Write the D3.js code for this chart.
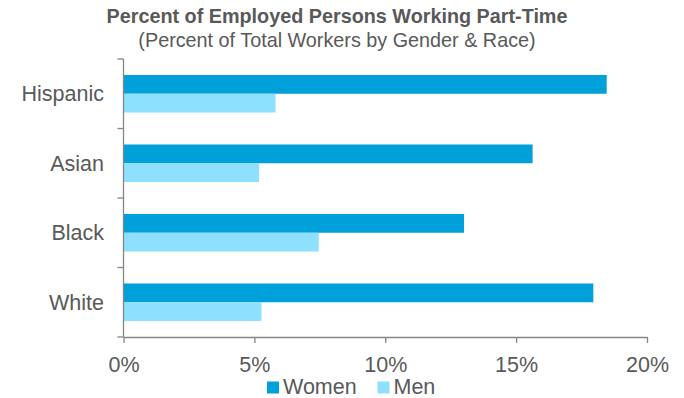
<!DOCTYPE html>
<html><head><meta charset="utf-8">
<script src="https://cdn.jsdelivr.net/npm/d3@7"></script>
<style>body{margin:0;background:#fff}svg{display:block}text{font-family:"Liberation Sans",Arial,sans-serif}</style>
</head><body><svg id="c" width="684" height="398"></svg>
<script>
const categories = ["Hispanic","Asian","Black","White"];
const women = [18.46, 15.63, 13.01, 17.95];
const men = [5.81, 5.18, 7.46, 5.27];
const series = ["Women","Men"];
const xTicks = [0,5,10,15,20];
const colors = {Women:"#00A0DA", Men:"#8EE0FF"};

const svg = d3.select("#c");
const m = {left:123.5, right:647, top:59, bottom:337};
const x = d3.scaleLinear().domain([0,20]).range([m.left,m.right]);
const y = d3.scaleBand().domain(categories).range([m.top,m.bottom]).paddingInner(0.46).paddingOuter(0.23);
const ys = d3.scaleBand().domain(series).range([0,y.bandwidth()]);
const vals = {Women:women, Men:men};
const textColor = "#595959", axisColor = "#868686";

svg.append("text").attr("x",337).attr("y",22.5).attr("text-anchor","middle")
  .attr("font-weight","bold").attr("font-size",19.8).attr("fill",textColor)
  .text("Percent of Employed Persons Working Part-Time");
svg.append("text").attr("x",337).attr("y",47).attr("text-anchor","middle")
  .attr("font-size",19.8).attr("fill",textColor)
  .text("(Percent of Total Workers by Gender & Race)");

categories.forEach((c,i)=>{
  series.forEach(s=>{
    svg.append("rect").attr("x",x(0)).attr("y",y(c)+ys(s))
      .attr("width",x(vals[s][i])-x(0)).attr("height",ys.bandwidth())
      .attr("fill",colors[s]);
  });
});

// y axis
const ya = svg.append("g");
ya.append("line").attr("x1",m.left).attr("x2",m.left).attr("y1",m.top).attr("y2",m.bottom).attr("stroke",axisColor).attr("stroke-width",1.3);
const bounds = d3.range(categories.length+1).map(i=>m.top+(m.bottom-m.top)*i/categories.length);
bounds.forEach(b=>ya.append("line").attr("x1",m.left-6).attr("x2",m.left).attr("y1",b).attr("y2",b).attr("stroke",axisColor).attr("stroke-width",1.3));
categories.forEach(c=>{
  ya.append("text").attr("x",104).attr("y",y(c)+y.bandwidth()/2).attr("dy","0.35em")
    .attr("text-anchor","end").attr("font-size",21.5).attr("fill",textColor).text(c);
});

// x axis
const xa = svg.append("g").attr("transform",`translate(0,${m.bottom})`)
  .call(d3.axisBottom(x).tickValues(xTicks).tickFormat(d=>d+"%").tickSize(6).tickSizeOuter(0));
xa.select(".domain").attr("stroke",axisColor).attr("stroke-width",1.3);
xa.selectAll(".tick line").attr("stroke",axisColor).attr("stroke-width",1.3);
xa.selectAll(".tick text").attr("font-size",21.5).attr("fill",textColor).attr("dy",0).attr("y",35)
  .attr("font-family","Liberation Sans, Arial, sans-serif");

// legend
const lg = svg.append("g");
const lx = [267, 377.5];
series.forEach((s,i)=>{
  lg.append("rect").attr("x",lx[i]).attr("y",381.5).attr("width",12).attr("height",12).attr("fill",colors[s]);
  lg.append("text").attr("x",lx[i]+16).attr("y",393.5).attr("font-size",21.5).attr("fill",textColor).text(s);
});
</script></body></html>
